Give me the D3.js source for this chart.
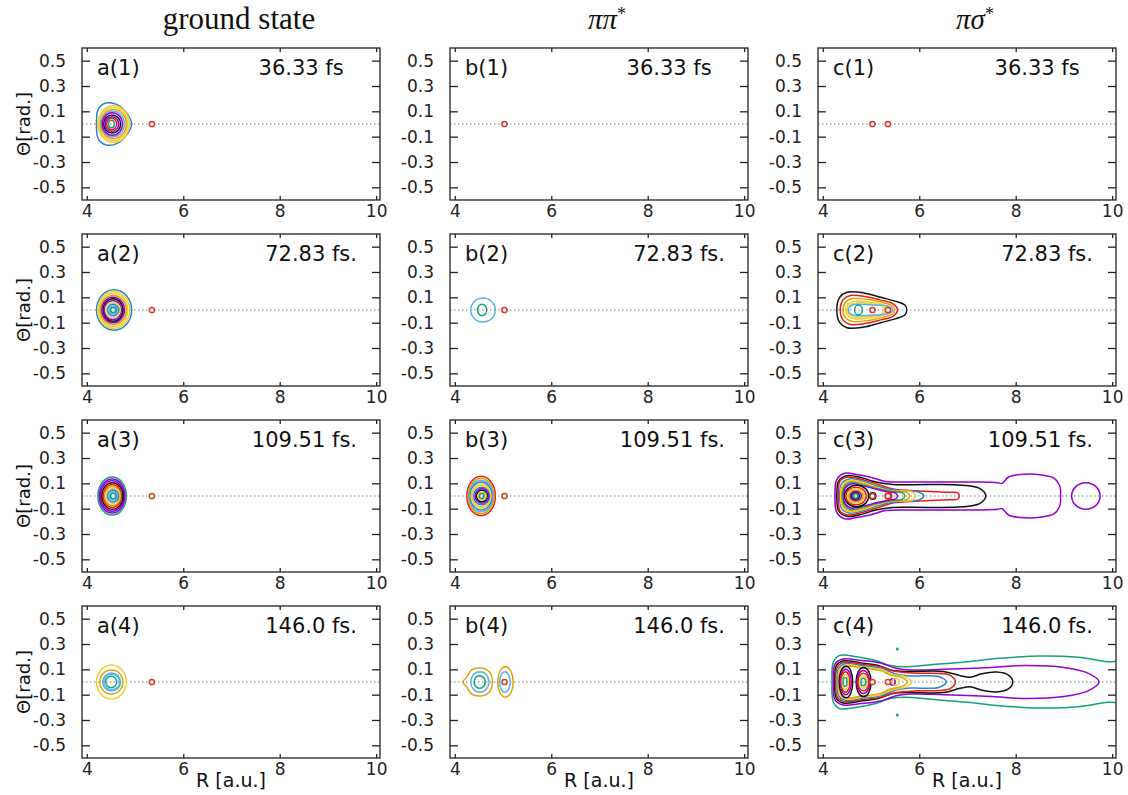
<!DOCTYPE html>
<html>
<head>
<meta charset="utf-8">
<script src="https://cdn.jsdelivr.net/npm/d3@7"></script>
<style>
body { margin: 0; background: #fff; }
</style>
</head>
<body>
<svg id="chart" width="1128" height="795"></svg>
<script>
// ---------- data ----------
var columnTitles = ["ground state", "ππ", "πσ"];
var panelLetters = ["a", "b", "c"];
var rowTimes = ["36.33 fs\u00a0\u00a0", "72.83 fs.", "109.51 fs.", "146.0 fs."];
var xTicks = [4, 6, 8, 10];
var yTicks = [0.5, 0.3, 0.1, -0.1, -0.3, -0.5];
var xDomain = [3.9, 10.08];
var yDomain = [-0.6, 0.6];
// red reference points on Theta = 0, one list per column
var markerR = [[5.35], [5.03], [5.03, 5.35]];

// contour colours (gnuplot default sequence)
var colors = { P: "#9400d3", G: "#14a07c", S: "#56b4e9", O: "#e69f00", Y: "#f0cf3a",
               B: "#2a84cc", R: "#e51e10", K: "#111111" };

// ovals: [colour, R left, R right, half height (rad), centre Theta]
var ovalsA1 = [["Y",4.23,4.88,0.145],["Y",4.25,4.85,0.13],["O",4.28,4.82,0.115],
  ["S",4.30,4.78,0.10],["P",4.32,4.74,0.088],["K",4.35,4.70,0.072],["P",4.38,4.66,0.058],
  ["R",4.41,4.62,0.045],["G",4.45,4.57,0.03]];
var ovalsA2 = [["B",4.20,4.93,0.16],["Y",4.23,4.89,0.145],["Y",4.26,4.85,0.13],["O",4.28,4.82,0.115],
  ["P",4.31,4.78,0.10],["K",4.34,4.75,0.088],["P",4.36,4.72,0.075],["Y",4.40,4.69,0.06],
  ["B",4.43,4.66,0.045],["S",4.46,4.63,0.032],["G",4.49,4.61,0.02]];
var ovalsA3 = [["G",4.23,4.82,0.15],["P",4.26,4.79,0.135],["P",4.28,4.77,0.12],["K",4.31,4.75,0.105],
  ["R",4.34,4.72,0.09],["O",4.37,4.70,0.075],["Y",4.40,4.68,0.06],["B",4.43,4.66,0.047],
  ["S",4.46,4.63,0.034],["G",4.49,4.61,0.022]];
var ovalsA4 = [["Y",4.20,4.82,0.135],["O",4.27,4.75,0.095],["S",4.33,4.70,0.072],["S",4.35,4.68,0.062],
  ["G",4.39,4.62,0.045]];
var ovalsB2 = [["S",4.33,4.84,0.095],["G",4.47,4.66,0.045]];
var ovalsB3 = [["R",4.25,4.84,0.155],["O",4.28,4.81,0.14],["S",4.30,4.79,0.125],["B",4.32,4.77,0.11],
  ["Y",4.34,4.75,0.095],["Y",4.36,4.74,0.085],["B",4.39,4.72,0.07],["P",4.42,4.70,0.057],
  ["K",4.45,4.67,0.045],["Y",4.48,4.65,0.032],["G",4.51,4.61,0.02]];
var ovalsB4 = [["S",4.33,4.71,0.08],["G",4.40,4.63,0.05],["O",4.89,5.21,0.12],["S",4.93,5.15,0.08]];
var ovalsC2 = [["G",4.66,4.82,0.04]];
var ovalsC3 = [["K",4.45,4.95,0.085],["R",4.48,4.90,0.07],["Y",4.51,4.86,0.058],["O",4.54,4.83,0.046],
  ["P",4.57,4.80,0.035],["K",4.60,4.76,0.025],["G",4.63,4.73,0.017],
  ["K",4.97,5.10,0.025],["R",5.29,5.43,0.024],["P",9.16,9.75,0.105]];
var ovalsC4 = [["K",4.34,4.62,0.125],["P",4.36,4.59,0.10],["R",4.38,4.56,0.08],["Y",4.40,4.53,0.06],
  ["G",4.42,4.50,0.035],["K",4.69,5.00,0.115],["P",4.71,4.97,0.09],["R",4.73,4.95,0.07],
  ["Y",4.76,4.92,0.05],["G",4.79,4.89,0.03],["P",5.40,5.50,0.025],["Y",5.44,5.58,0.03],
  ["G",5.53,5.56,0.006,0.26],["G",5.53,5.56,0.006,-0.26]];

// profiles (symmetric about Theta = 0): [colour, [[R, half height], ...]]
var profilesA1 = [["B",[[4.20,0],[4.24,0.12],[4.40,0.165],[4.62,0.155],[4.82,0.09],[4.93,0]]]];
var profilesB4 = [["O",[[4.17,0],[4.25,0.04],[4.35,0.095],[4.50,0.11],[4.65,0.10],[4.75,0.06],[4.78,0]]]];
var profilesC2 = [
  ["K",[[4.29,0],[4.35,0.10],[4.50,0.14],[4.85,0.135],[5.20,0.10],[5.50,0.07],[5.70,0.04],[5.74,0]]],
  ["R",[[4.36,0],[4.42,0.08],[4.57,0.115],[4.90,0.105],[5.20,0.078],[5.45,0.05],[5.55,0]]],
  ["O",[[4.42,0],[4.48,0.065],[4.62,0.09],[4.95,0.082],[5.25,0.058],[5.45,0.03],[5.49,0]]],
  ["Y",[[4.47,0],[4.53,0.05],[4.67,0.07],[5.00,0.062],[5.25,0.04],[5.32,0]]],
  ["Y",[[4.50,0],[4.56,0.04],[4.70,0.058],[5.00,0.05],[5.22,0.032],[5.28,0]]],
  ["S",[[4.53,0],[4.58,0.033],[4.72,0.045],[5.05,0.04],[5.35,0.03],[5.45,0]]]];
var profilesC3 = [
  ["P",[[4.25,0],[4.29,0.13],[4.45,0.18],[4.70,0.17],[4.97,0.15],[5.30,0.115],[5.80,0.11],[6.50,0.11],
        [7.30,0.11],[7.62,0.105],[7.72,0.10],[7.85,0.15],[8.10,0.17],[8.50,0.168],[8.80,0.14],[8.92,0.07],[8.93,0]]],
  ["K",[[4.29,0],[4.33,0.12],[4.50,0.16],[4.80,0.145],[5.10,0.11],[5.45,0.09],[6.20,0.09],[6.90,0.085],[7.25,0.06],[7.38,0]]],
  ["R",[[4.32,0],[4.36,0.12],[4.52,0.15],[4.82,0.13],[5.12,0.095],[5.45,0.055],[6.00,0.04],[6.60,0.03],[6.80,0.025],[6.83,0]]],
  ["B",[[4.35,0],[4.39,0.10],[4.55,0.135],[4.85,0.115],[5.15,0.075],[5.50,0.045],[5.95,0.035],[6.10,0]]],
  ["Y",[[4.37,0],[4.41,0.09],[4.56,0.125],[4.85,0.105],[5.15,0.065],[5.45,0.04],[5.85,0.032],[5.93,0]]],
  ["O",[[4.39,0],[4.43,0.08],[4.57,0.115],[4.85,0.095],[5.15,0.06],[5.45,0.037],[5.73,0.03],[5.80,0]]],
  ["G",[[4.41,0],[4.45,0.07],[4.58,0.105],[4.85,0.085],[5.15,0.055],[5.45,0.033],[5.64,0.028],[5.70,0]]],
  ["P",[[4.43,0],[4.47,0.065],[4.59,0.095],[4.85,0.078],[5.15,0.05],[5.40,0.03],[5.50,0.025],[5.55,0]]]];
var profilesC4 = [
  ["G",[[4.19,0],[4.22,0.16],[4.35,0.21],[4.70,0.20],[5.10,0.17],[5.40,0.13],[5.70,0.12],[6.20,0.135],
        [7.00,0.16],[7.60,0.185],[8.50,0.205],[9.30,0.195],[9.90,0.16],[10.30,0.15],[10.40,0]]],
  ["P",[[4.22,0],[4.25,0.14],[4.40,0.18],[4.80,0.17],[5.20,0.15],[5.50,0.11],[5.80,0.095],[6.50,0.10],
        [7.50,0.115],[8.20,0.13],[9.00,0.115],[9.50,0.07],[9.73,0]]],
  ["K",[[4.25,0],[4.28,0.13],[4.42,0.165],[4.80,0.15],[5.15,0.13],[5.45,0.09],[5.80,0.083],[6.50,0.083],
        [6.85,0.05],[7.05,0.038],[7.30,0.065],[7.60,0.078],[7.85,0.055],[7.94,0]]],
  ["R",[[4.27,0],[4.30,0.12],[4.45,0.155],[4.80,0.14],[5.20,0.12],[5.50,0.085],[5.90,0.07],[6.40,0.068],[6.65,0.05],[6.75,0]]],
  ["B",[[4.30,0],[4.33,0.11],[4.47,0.145],[4.80,0.13],[5.20,0.11],[5.50,0.065],[5.80,0.048],[6.40,0.043],[6.56,0]]],
  ["Y",[[4.32,0],[4.35,0.10],[4.50,0.135],[4.80,0.12],[5.20,0.10],[5.45,0.06],[5.70,0.042],[5.85,0]]],
  ["O",[[4.34,0],[4.37,0.09],[4.52,0.125],[4.80,0.11],[5.20,0.09],[5.40,0.055],[5.65,0.035],[5.75,0]]]];

// panels[row][col]
var panels = [
  [{ ovals: ovalsA1, profiles: profilesA1 }, { ovals: [], profiles: [] }, { ovals: [], profiles: [] }],
  [{ ovals: ovalsA2, profiles: [] }, { ovals: ovalsB2, profiles: [] }, { ovals: ovalsC2, profiles: profilesC2 }],
  [{ ovals: ovalsA3, profiles: [] }, { ovals: ovalsB3, profiles: [] }, { ovals: ovalsC3, profiles: profilesC3 }],
  [{ ovals: ovalsA4, profiles: [] }, { ovals: ovalsB4, profiles: profilesB4 }, { ovals: ovalsC4, profiles: profilesC4 }]
];

// ---------- layout ----------
var colLeft = [82, 450, 818];
var rowTop = [48, 234, 420, 606];
var pw = 298, ph = 152;
var sans = "DejaVu Sans, sans-serif";
var serif = "Liberation Serif, Times New Roman, serif";

var svg = d3.select("#chart");

// column titles
columnTitles.forEach(function (t, c) {
  var cx = colLeft[c] + pw / 2 + 8;
  var txt = svg.append("text").attr("x", cx).attr("y", 29)
    .attr("text-anchor", "middle").attr("font-family", serif).attr("fill", "#111");
  if (c === 0) {
    txt.attr("font-size", 31).text(t);
  } else {
    txt.attr("font-size", 29);
    txt.append("tspan").attr("font-style", "italic").text(t);
    txt.append("tspan").attr("font-size", 18).attr("dy", -9).text("*");
  }
});

var line = d3.line().curve(d3.curveCatmullRomClosed.alpha(0.5));

rowTimes.forEach(function (time, r) {
  panelLetters.forEach(function (letter, c) {
    var left = colLeft[c], top = rowTop[r];
    var x = d3.scaleLinear().domain(xDomain).range([left, left + pw]);
    var y = d3.scaleLinear().domain(yDomain).range([top + ph, top]);
    var g = svg.append("g");
    var clipId = "clip" + r + c;
    g.append("clipPath").attr("id", clipId).append("rect")
      .attr("x", left).attr("y", top).attr("width", pw).attr("height", ph);

    var plot = g.append("g").attr("clip-path", "url(#" + clipId + ")");

    // zero line
    plot.append("line").attr("x1", left).attr("x2", left + pw)
      .attr("y1", y(0)).attr("y2", y(0))
      .attr("stroke", "#777").attr("stroke-width", 1).attr("stroke-dasharray", "1.4,2.6");

    var p = panels[r][c];
    plot.selectAll("path.prof").data(p.profiles).enter().append("path")
      .attr("class", "prof")
      .attr("d", function (d) {
        var pts = d[1];
        var upper = pts.map(function (q) { return [x(q[0]), y(q[1])]; });
        var lower = pts.slice(1, -1).reverse().map(function (q) { return [x(q[0]), y(-q[1])]; });
        return line(upper.concat(lower));
      })
      .attr("fill", "none").attr("stroke", function (d) { return colors[d[0]]; })
      .attr("stroke-width", 1.5);

    plot.selectAll("ellipse.ov").data(p.ovals).enter().append("ellipse")
      .attr("class", "ov")
      .attr("cx", function (d) { return (x(d[1]) + x(d[2])) / 2; })
      .attr("cy", function (d) { return y(d[4] || 0); })
      .attr("rx", function (d) { return (x(d[2]) - x(d[1])) / 2; })
      .attr("ry", function (d) { return y(0) - y(d[3]); })
      .attr("fill", "none").attr("stroke", function (d) { return colors[d[0]]; })
      .attr("stroke-width", 1.5);

    plot.selectAll("circle.mk").data(markerR[c]).enter().append("circle")
      .attr("class", "mk")
      .attr("cx", function (d) { return x(d); }).attr("cy", y(0)).attr("r", 2.6)
      .attr("fill", "#fff").attr("stroke", "#d23a2a").attr("stroke-width", 1.5);

    // axes (inward ticks, mirrored)
    var fmt = function (d) { return String(d); };
    var axL = g.append("g").attr("transform", "translate(" + left + ",0)")
      .call(d3.axisLeft(y).tickValues(yTicks).tickSize(-8).tickSizeOuter(0).tickPadding(16).tickFormat(fmt));
    var axR = g.append("g").attr("transform", "translate(" + (left + pw) + ",0)")
      .call(d3.axisRight(y).tickValues(yTicks).tickSize(-8).tickSizeOuter(0).tickFormat(""));
    var axB = g.append("g").attr("transform", "translate(0," + (top + ph) + ")")
      .call(d3.axisBottom(x).tickValues(xTicks).tickSize(-4).tickSizeOuter(0).tickPadding(5).tickFormat(fmt));
    var axT = g.append("g").attr("transform", "translate(0," + top + ")")
      .call(d3.axisTop(x).tickValues(xTicks).tickSize(-4).tickSizeOuter(0).tickFormat(""));
    [axL, axR, axB, axT].forEach(function (a) {
      a.select(".domain").remove();
      a.selectAll("line").attr("stroke", "#222").attr("stroke-width", 1.3);
      a.selectAll("text").attr("font-family", sans).attr("font-size", 17).attr("fill", "#222");
    });

    g.append("rect").attr("x", left).attr("y", top).attr("width", pw).attr("height", ph)
      .attr("fill", "none").attr("stroke", "#222").attr("stroke-width", 1.3);

    // panel labels
    g.append("text").attr("x", left + 15).attr("y", top + 27)
      .attr("font-family", sans).attr("font-size", 21).attr("fill", "#111")
      .text(letter + "(" + (r + 1) + ")");
    g.append("text").attr("x", left + pw - 23).attr("y", top + 27)
      .attr("text-anchor", "end").attr("font-family", sans).attr("font-size", 21).attr("fill", "#111")
      .text(time);

    if (c === 0) {
      svg.append("text").attr("transform", "translate(23," + y(0) + ") rotate(-90)")
        .attr("text-anchor", "middle").attr("dominant-baseline", "central")
        .attr("font-family", sans).attr("font-size", 18).attr("fill", "#111")
        .text("Θ[rad.]");
    }
    if (r === rowTimes.length - 1) {
      svg.append("text").attr("x", left + pw / 2).attr("y", 787)
        .attr("text-anchor", "middle").attr("font-family", sans).attr("font-size", 19).attr("fill", "#111")
        .text("R [a.u.]");
    }
  });
});
</script>
</body>
</html>
